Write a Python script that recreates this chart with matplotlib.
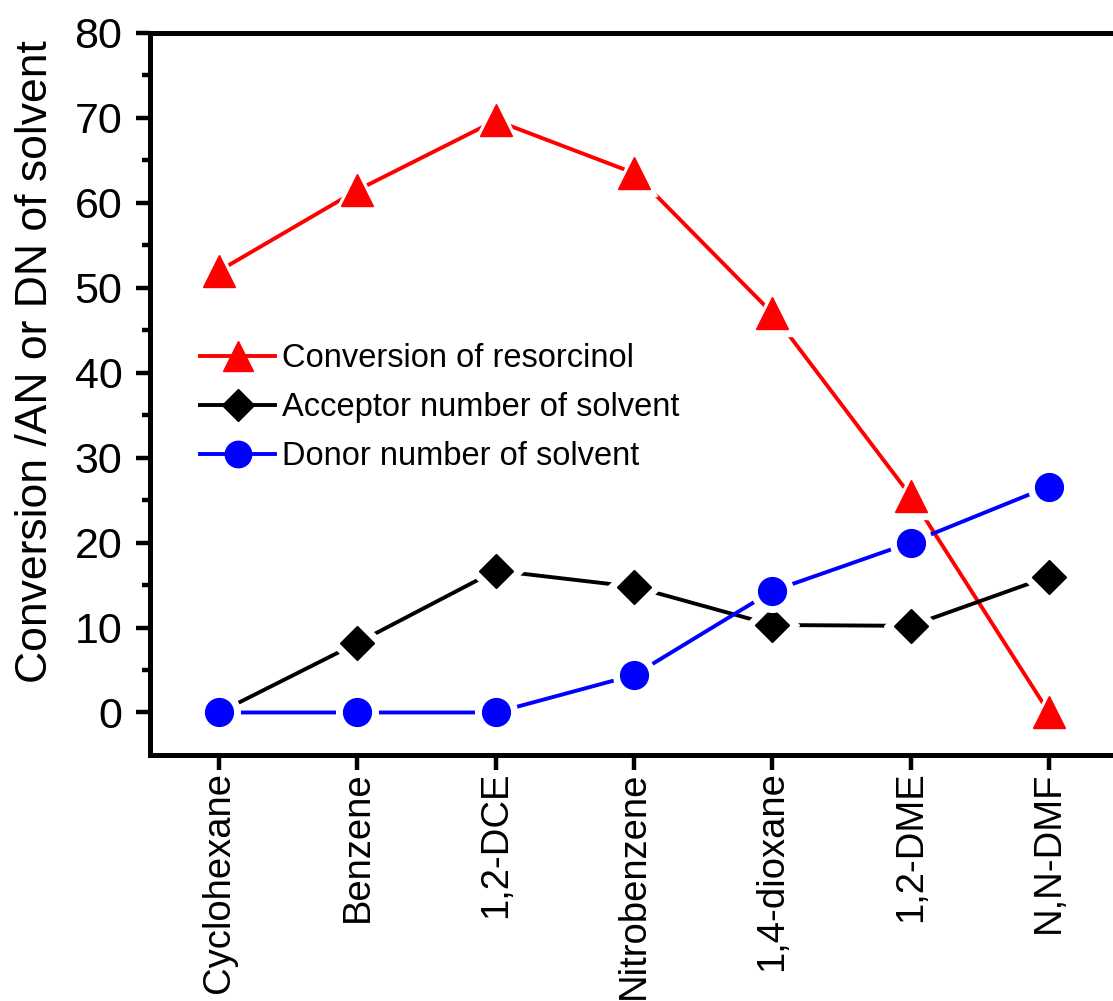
import matplotlib.pyplot as plt
import numpy as np

# solvents and measured values
solvents = ["Cyclohexane", "Benzene", "1,2-DCE", "Nitrobenzene",
            "1,4-dioxane", "1,2-DME", "N,N-DMF"]
conversion = [52.0, 61.5, 69.7, 63.5, 47.0, 25.5, 0.0]
acceptor_num = [0.0, 8.2, 16.7, 14.8, 10.3, 10.2, 16.0]
donor_num = [0.0, 0.0, 0.0, 4.4, 14.3, 20.0, 26.6]

plt.rcParams['font.family'] = ['Liberation Sans', 'DejaVu Sans']

fig = plt.figure(figsize=(11.13, 10.01), dpi=100)
ax = fig.add_axes([0.1348, 0.2458, 0.8698, 0.7213])

x = np.arange(len(solvents))

series = [
    (conversion, 'red', '^', 23, "Conversion of resorcinol"),
    (acceptor_num, 'black', 'D', 17.5, "Acceptor number of solvent"),
    (donor_num, 'blue', 'o', 20, "Donor number of solvent"),
]

handles = []
for i, (vals, col, mk, ms, lab) in enumerate(series):
    z = 3 + i
    # line, then a white marker halo to leave a gap, then the marker itself
    ax.plot(x, vals, color=col, lw=2.8, zorder=z, solid_capstyle='round')
    ax.plot(x, vals, ls='none', marker=mk, ms=ms + 10, color='white',
            mec='white', zorder=z + 0.1)
    ax.plot(x, vals, ls='none', marker=mk, ms=ms, color=col, mec=col,
            zorder=z + 0.2)
    h, = ax.plot([], [], color=col, lw=2.8, marker=mk, ms=ms * 0.95,
                 mec=col, label=lab)
    handles.append(h)

ax.set_xlim(-0.5, 6.5)
ax.set_ylim(-5, 80)
ax.set_xticks(x)
ax.set_xticklabels(solvents, rotation=90, fontsize=27.5)
ax.set_yticks(np.arange(0, 81, 10))
ax.set_yticks(np.arange(5, 80, 10), minor=True)
ax.tick_params(axis='y', labelsize=31, width=3.2, length=10, direction='out', pad=10)
ax.tick_params(axis='y', which='minor', width=3.2, length=6)
ax.tick_params(axis='x', width=3.2, length=11, direction='out', pad=1)
ax.set_ylabel("Conversion /AN or DN of solvent", fontsize=32)
ax.yaxis.set_label_coords(-0.097, 0.545)

for side in ['left', 'bottom', 'top']:
    ax.spines[side].set_linewidth(3.6)
ax.spines['right'].set_visible(False)

fig.legend(handles=handles, loc='upper left', bbox_to_anchor=(0.18, 0.657),
           frameon=False, fontsize=23.5, handlelength=2.3, handletextpad=0.2,
           labelspacing=0.55, borderpad=0, borderaxespad=0)

fig.savefig("out.png", dpi=100)
